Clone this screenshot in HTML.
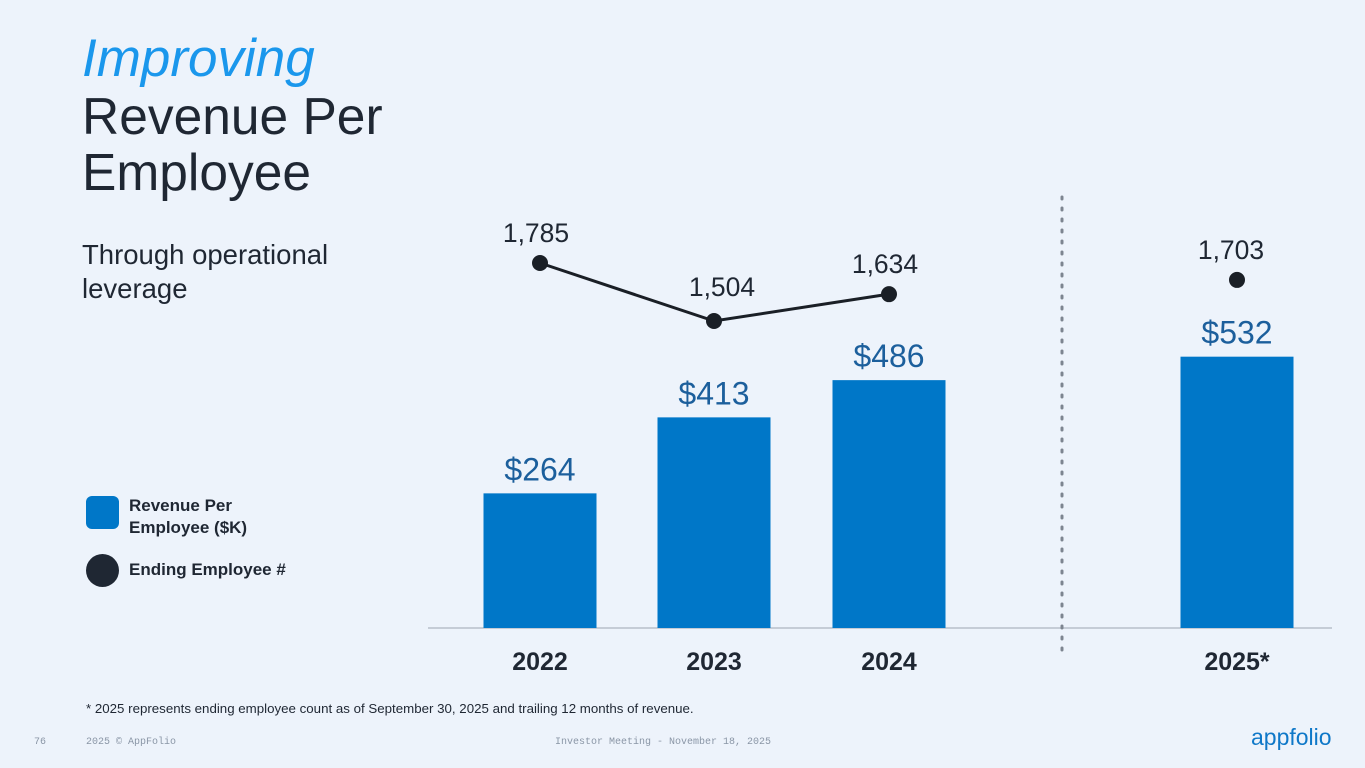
<!DOCTYPE html>
<html><head><meta charset="utf-8"><style>
body{margin:0;width:1365px;height:768px;background:#edf3fb;font-family:"Liberation Sans",sans-serif;overflow:hidden;position:relative}
.t{position:absolute;white-space:nowrap}
</style></head><body>
<div class="t" style="left:82px;top:28px;font-size:53px;font-style:italic;color:#1a97ec">Improving</div>
<div class="t" style="left:82px;top:88px;font-size:51.5px;line-height:56px;color:#1f2733">Revenue Per<br>Employee</div>
<div class="t" style="left:82px;top:238px;font-size:27.5px;line-height:34px;color:#1f2733">Through operational<br>leverage</div>
<div class="t" style="left:86px;top:496px;width:33px;height:33px;border-radius:6px;background:#0077c8"></div>
<div class="t" style="left:129px;top:495px;font-size:17px;line-height:22px;font-weight:bold;color:#1f2733">Revenue Per<br>Employee ($K)</div>
<div class="t" style="left:86px;top:554px;width:33px;height:33px;border-radius:50%;background:#1f2733"></div>
<div class="t" style="left:129px;top:560px;font-size:17px;font-weight:bold;color:#1f2733">Ending Employee #</div>
<svg id="chart" width="1365" height="768" style="position:absolute;left:0;top:0"></svg>
<div class="t" style="left:86px;top:701px;font-size:13.3px;color:#1f2733">* 2025 represents ending employee count as of September 30, 2025 and trailing 12 months of revenue.</div>
<div class="t" style="left:34px;top:737px;font-size:10px;font-family:'Liberation Mono',monospace;color:#8a96a6">76</div>
<div class="t" style="left:86px;top:737px;font-size:10px;font-family:'Liberation Mono',monospace;color:#8a96a6">2025 © AppFolio</div>
<div class="t" style="left:555px;top:737px;font-size:10px;font-family:'Liberation Mono',monospace;color:#8a96a6">Investor Meeting - November 18, 2025</div>
<div class="t" style="left:1251px;top:724px;font-size:23px;color:#0f78c8">appfolio</div>
<script>
const categories=["2022","2023","2024","2025*"];
const revenue=[264,413,486,532];
const employees=[1785,1504,1634,1703];
const revLabels=["$264","$413","$486","$532"];
const empLabels=["1,785","1,504","1,634","1,703"];
const svg=document.getElementById('chart');
const NS="http://www.w3.org/2000/svg";
const centers=[540,714,889,1237];
const base=628;
function yBar(v){return base-v*0.51;}
function yLine(v){return 263+(1785-v)*0.2064;}
function mk(t,a){const e=document.createElementNS(NS,t);for(const k in a)e.setAttribute(k,a[k]);svg.appendChild(e);return e;}
let ax=mk('line',{x1:428,y1:base,x2:1332,y2:base,stroke:'#c5ccd6','stroke-width':2});


let dv=mk('line',{x1:1062,y1:197,x2:1062,y2:657,stroke:'#7d8590','stroke-width':3,'stroke-dasharray':'2 9','stroke-linecap':'round'});


revenue.forEach((v,i)=>{
  const y=yBar(v);
  const r=mk('rect',{x:centers[i]-56.5,y:y,width:113,height:base-y,fill:'#0077c8'});
  
  
  const t=mk('text',{x:centers[i],y:y-13,'text-anchor':'middle','font-size':32,fill:'#1c5f9c'});
  t.textContent=revLabels[i];
  
  
  const c=mk('text',{x:centers[i],y:670,'text-anchor':'middle','font-size':25,'font-weight':'bold',fill:'#1f2733'});
  c.textContent=categories[i];
  
  
});
let pts=[0,1,2].map(i=>centers[i]+','+yLine(employees[i])).join(' ');
let pl=mk('polyline',{points:pts,fill:'none',stroke:'#1a1f26','stroke-width':3});


employees.forEach((v,i)=>{
  const y=yLine(v);
  const c=mk('circle',{cx:centers[i],cy:y,r:8,fill:'#1a1f26'});
  
  
  const t=mk('text',{x:centers[i]+(i==1?8:(i==3?-6:-4)),y:y-(i==1?25:21),'text-anchor':'middle','font-size':26.5,fill:'#1f2733'});
  t.textContent=empLabels[i];
  
  
});
</script>
</body></html>
